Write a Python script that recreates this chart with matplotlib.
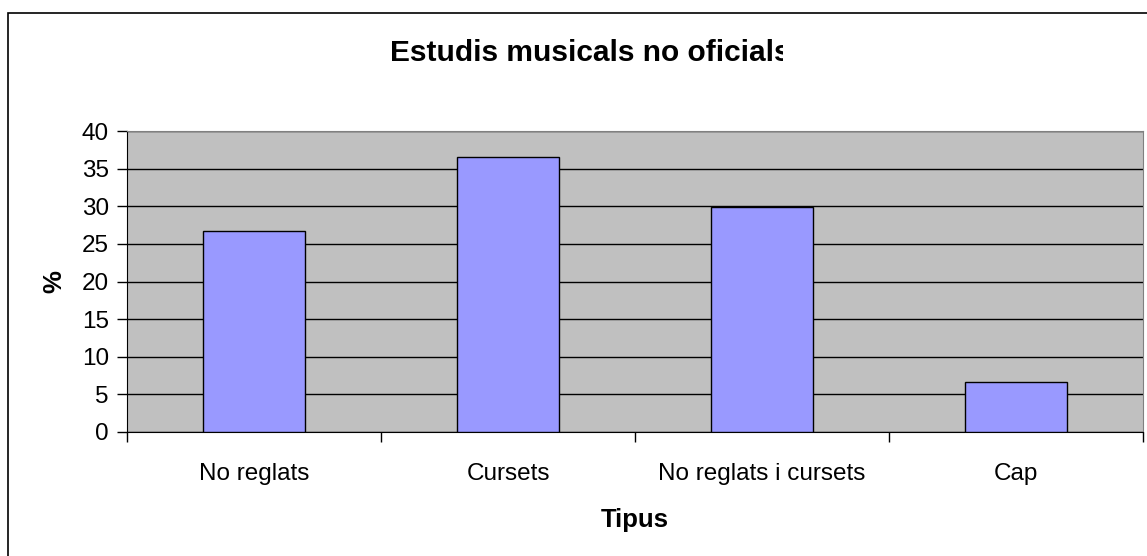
import matplotlib.pyplot as plt
from matplotlib.patches import Rectangle
from matplotlib.transforms import Bbox

plt.rcParams['font.family'] = ['Liberation Sans', 'DejaVu Sans']

# Dades
categories = ['No reglats', 'Cursets', 'No reglats i cursets', 'Cap']
valors = [26.7, 36.5, 29.9, 6.6]
yticks = [0, 5, 10, 15, 20, 25, 30, 35, 40]

fig = plt.figure(figsize=(11.47, 5.56), dpi=100)

# marc exterior del grafic (tallat a dreta i a baix)
fig.patches.append(Rectangle((8 / 1147, -0.05), 1.2, 1 - 13 / 556 + 0.05,
                             transform=fig.transFigure, fill=False,
                             edgecolor='black', linewidth=1.2))

ax = fig.add_axes([127 / 1147, 1 - 432 / 556, (1143 - 127) / 1147, (432 - 131) / 556])
ax.set_facecolor('#C0C0C0')

x = range(len(categories))
ax.bar(x, valors, width=0.4, color='#9999FF', edgecolor='black', linewidth=1, zorder=3)

ax.set_xlim(-0.5, len(categories) - 0.5)
ax.set_ylim(0, 40)
ax.set_yticks(yticks)
ax.set_yticklabels([str(v) for v in yticks], fontsize=17.5)
ax.set_xticks([i - 0.5 for i in range(len(categories) + 1)])
ax.set_xticklabels([])
ax.set_xticks(list(x), minor=True)
ax.set_xticklabels(categories, minor=True, fontsize=17.5)
ax.tick_params(axis='x', which='minor', length=0, pad=22)
ax.tick_params(axis='x', which='major', length=7, direction='out', width=1)
ax.tick_params(axis='y', length=7, direction='out', width=1, pad=6)

ax.grid(axis='y', color='black', linewidth=1, zorder=1)
ax.set_axisbelow(True)
for s in ['top', 'right']:
    ax.spines[s].set_color('#808080')
for s in ['left', 'bottom']:
    ax.spines[s].set_color('black')

ax.set_xlabel('Tipus', fontsize=18.5, fontweight='bold', labelpad=17)
ax.set_ylabel('%', fontsize=18.5, fontweight='bold', labelpad=11)

t = fig.text(590 / 1147, 1 - 53 / 556, 'Estudis musicals no oficials', ha='center', va='center',
             fontsize=21.5, fontweight='bold')
t.set_clip_box(Bbox([[0, 0], [783, 556]]))
t.set_clip_on(True)

fig.savefig('out.png', dpi=100)
